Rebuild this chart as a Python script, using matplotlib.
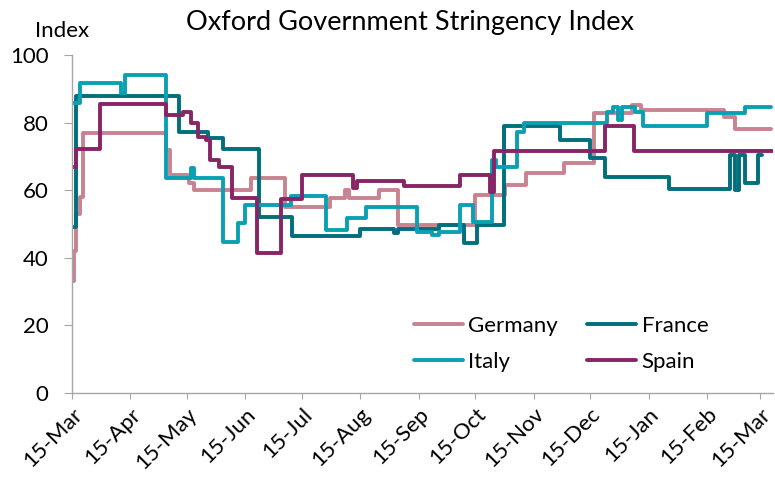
# Oxford Government Stringency Index, four countries, daily step series

import pandas as pd
import matplotlib.pyplot as plt
import matplotlib.dates as mdates

plt.rcParams['font.family'] = ['Lato', 'DejaVu Sans']

# change points of each series (date the value starts, value)
germany_dates = ['2020-03-15', '2020-03-16', '2020-03-17', '2020-03-19', '2020-03-21',
                 '2020-05-04', '2020-05-06', '2020-05-16', '2020-05-19', '2020-06-18',
                 '2020-07-06', '2020-07-30', '2020-08-07', '2020-08-09', '2020-08-25',
                 '2020-09-04', '2020-10-15', '2020-10-31', '2020-11-11', '2020-12-01',
                 '2020-12-17', '2021-01-06', '2021-01-11', '2021-02-24', '2021-03-02',
                 '2021-03-21']
germany_values = [33, 42, 53, 58, 77,
                  72, 64.5, 62, 60, 63.5,
                  55.1, 57.6, 60, 57.6, 60,
                  49.7, 58.6, 61.5, 65, 68,
                  82.7, 85.2, 83.7, 81.8, 78,
                  78]

france_dates = ['2020-03-15', '2020-03-17', '2020-05-11', '2020-05-26', '2020-06-03',
                '2020-06-22', '2020-07-10', '2020-08-15', '2020-09-02', '2020-09-04',
                '2020-09-26', '2020-10-09', '2020-10-16', '2020-10-30', '2020-11-29',
                '2020-12-15', '2020-12-23', '2021-01-26', '2021-02-27', '2021-03-02',
                '2021-03-04', '2021-03-07', '2021-03-14', '2021-03-16']
france_values = [49, 88, 77.3, 75.3, 72.2,
                 52.2, 46.4, 48.6, 47.2, 48.4,
                 49.7, 44.3, 49.7, 79, 75,
                 69.4, 63.8, 60.4, 70.4, 60.2,
                 70.4, 62, 70.4, 70.4]

italy_dates = ['2020-03-15', '2020-03-19', '2020-04-10', '2020-04-12', '2020-05-04',
               '2020-05-17', '2020-05-19', '2020-06-03', '2020-06-11', '2020-06-15',
               '2020-07-09', '2020-07-28', '2020-08-08', '2020-08-18', '2020-09-14',
               '2020-09-22', '2020-09-26', '2020-10-07', '2020-10-14', '2020-10-24',
               '2020-10-26', '2020-11-06', '2020-11-10', '2020-12-24', '2020-12-27',
               '2020-12-30', '2021-01-01', '2021-01-08', '2021-01-12', '2021-02-15',
               '2021-03-07', '2021-03-21']
italy_values = [85.7, 91.6, 88.7, 94.1, 63.5,
                66.5, 63.5, 44.8, 50.3, 55.6,
                58.3, 48.2, 51.7, 54.9, 47.7,
                46.7, 47.7, 55.6, 50.7, 68.9,
                66.8, 77.3, 80, 83.2, 84.7,
                80.8, 84.7, 83, 79, 82.7,
                84.7, 84.7]

spain_dates = ['2020-03-15', '2020-03-17', '2020-03-30', '2020-05-04', '2020-05-13',
               '2020-05-17', '2020-05-21', '2020-05-25', '2020-05-27', '2020-06-01',
               '2020-06-08', '2020-06-21', '2020-07-04', '2020-07-15', '2020-08-11',
               '2020-08-13', '2020-09-07', '2020-10-07', '2020-10-23', '2020-10-25',
               '2020-12-23', '2021-01-07', '2021-03-22']
spain_values = [67, 72.1, 85.5, 82.2, 83.2,
                79.8, 75.8, 74.8, 68.9, 67,
                57.6, 41.3, 57.3, 64.5, 60.6,
                62.8, 61.2, 64.5, 59.6, 71.5,
                79, 71.5, 71.5]

series_names = ['Germany', 'France', 'Italy', 'Spain']
series_dates = [germany_dates, france_dates, italy_dates, spain_dates]
series_values = [germany_values, france_values, italy_values, spain_values]
series_colors = ['#c98390', '#006f7c', '#0aa0b4', '#882566']

# ticks on the 15th of every month
tick_dates = pd.date_range('2020-03-01', '2021-03-01', freq='MS') + pd.Timedelta(days=14)

fig = plt.figure(figsize=(7.75, 4.78), dpi=100)
ax = fig.add_axes([72 / 775, 1 - 393 / 478, 701 / 775, 338 / 478])

lines = {}
for name, dates, values, color in zip(series_names, series_dates, series_values, series_colors):
    lines[name], = ax.plot(pd.to_datetime(dates), values, drawstyle='steps-post', color=color,
                           linewidth=2.8, label=name, solid_capstyle='round')

ax.set_ylim(0, 100)
ax.set_xlim(pd.Timestamp('2020-03-15'), pd.Timestamp('2021-03-22'))
ax.set_yticks(range(0, 101, 20))
ax.set_xticks(tick_dates)
ax.xaxis.set_major_formatter(mdates.DateFormatter('%d-%b'))

for side in ['top', 'right']:
    ax.spines[side].set_visible(False)
for side in ['left', 'bottom']:
    ax.spines[side].set_color('#a6a6a6')
    ax.spines[side].set_linewidth(1.0)

ax.tick_params(axis='y', length=6, color='#a6a6a6', labelsize=16, pad=11)
ax.tick_params(axis='x', length=4, color='#a6a6a6', labelsize=16, pad=4)
for label in ax.get_xticklabels():
    label.set_rotation(45)
    label.set_ha('right')
    label.set_va('top')
    label.set_rotation_mode('anchor')

fig.text(0.529, 0.952, 'Oxford Government Stringency Index', ha='center', va='center', fontsize=19.5)
fig.text(0.08, 0.935, 'Index', ha='center', va='center', fontsize=16)

# legend fills row by row: Germany, France / Italy, Spain
order = ['Germany', 'Italy', 'France', 'Spain']
ax.legend([lines[n] for n in order], order, ncol=2, frameon=False, fontsize=16, loc='upper left',
          bbox_to_anchor=(414 / 775, 1 - 316 / 478), bbox_transform=fig.transFigure,
          borderpad=0, borderaxespad=0, handlelength=2.2, handletextpad=0.25,
          columnspacing=1.3, labelspacing=0.7)

fig.savefig('out.png', dpi=100)
